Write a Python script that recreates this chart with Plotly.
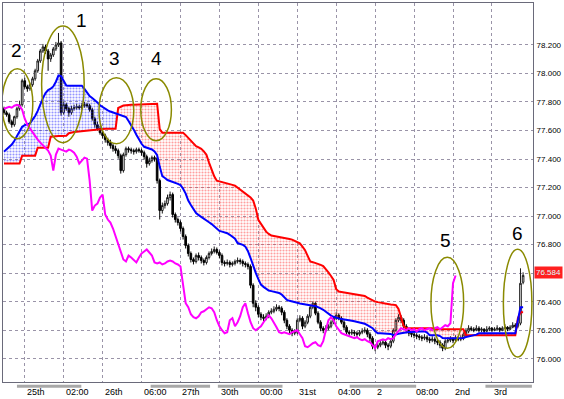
import plotly.graph_objects as go

# ---------------- data (bar index 0..200) ----------------
opens = [77.753,77.725,77.711,77.662,77.641,77.697,77.753,77.781,77.949,77.907,
77.893,77.921,77.963,78.019,78.088,78.158,78.186,78.158,78.102,78.130,
78.172,78.200,78.214,77.725,77.781,77.753,77.725,77.753,77.760,77.767,
77.760,77.774,77.781,77.774,77.746,77.683,77.641,77.613,77.585,77.564,
77.536,77.515,77.494,77.473,77.459,77.424,77.319,77.431,77.473,77.466,
77.459,77.452,77.466,77.459,77.445,77.417,77.368,77.389,77.410,77.403,
77.249,77.039,77.074,77.088,77.130,77.151,77.011,76.976,76.955,76.913,
76.857,76.794,76.738,76.696,76.682,76.724,76.710,76.689,76.675,76.710,
76.738,76.752,76.766,76.745,76.724,76.675,76.668,76.675,76.661,76.668,
76.682,76.689,76.682,76.668,76.661,76.647,76.515,76.389,76.361,76.312,
76.291,76.284,76.298,76.326,76.333,76.347,76.361,76.354,76.326,76.270,
76.228,76.200,76.179,76.186,76.270,76.284,76.228,76.256,76.298,76.361,
76.389,76.319,76.256,76.214,76.200,76.214,76.228,76.256,76.284,76.305,
76.284,76.256,76.221,76.186,76.179,76.186,76.179,76.172,76.186,76.193,
76.200,76.172,76.144,76.088,76.081,76.095,76.109,76.116,76.095,76.088,
76.123,76.200,76.270,76.291,76.270,76.228,76.200,76.179,76.172,76.165,
76.158,76.151,76.144,76.151,76.137,76.130,76.137,76.123,76.116,76.095,
76.074,76.123,76.130,76.137,76.130,76.144,76.137,76.144,76.172,76.193,
76.214,76.207,76.200,76.214,76.200,76.207,76.193,76.207,76.214,76.200,
76.207,76.214,76.200,76.214,76.221,76.207,76.221,76.235,76.228,76.249,
76.536]

closes = [77.725,77.711,77.662,77.641,77.697,77.753,77.781,77.949,77.907,77.893,
77.921,77.963,78.019,78.088,78.158,78.186,78.158,78.102,78.130,78.172,
78.200,78.214,77.725,77.781,77.753,77.725,77.753,77.760,77.767,77.760,
77.774,77.781,77.774,77.746,77.683,77.641,77.613,77.585,77.564,77.536,
77.515,77.494,77.473,77.459,77.424,77.319,77.431,77.473,77.466,77.459,
77.452,77.466,77.459,77.445,77.417,77.368,77.389,77.410,77.403,77.249,
77.039,77.074,77.088,77.130,77.151,77.011,76.976,76.955,76.913,76.857,
76.794,76.738,76.696,76.682,76.724,76.710,76.689,76.675,76.710,76.738,
76.752,76.766,76.745,76.724,76.675,76.668,76.675,76.661,76.668,76.682,
76.689,76.682,76.668,76.661,76.647,76.515,76.389,76.361,76.312,76.291,
76.284,76.298,76.326,76.333,76.347,76.361,76.354,76.326,76.270,76.228,
76.200,76.179,76.186,76.270,76.284,76.228,76.256,76.298,76.361,76.389,
76.319,76.256,76.214,76.200,76.214,76.228,76.256,76.284,76.305,76.284,
76.256,76.221,76.186,76.179,76.186,76.179,76.172,76.186,76.193,76.200,
76.172,76.144,76.088,76.081,76.095,76.109,76.116,76.095,76.088,76.123,
76.200,76.270,76.291,76.270,76.228,76.200,76.179,76.172,76.165,76.158,
76.151,76.144,76.151,76.137,76.130,76.137,76.123,76.116,76.095,76.074,
76.123,76.130,76.137,76.130,76.144,76.137,76.144,76.172,76.193,76.214,
76.207,76.200,76.214,76.200,76.207,76.193,76.207,76.214,76.200,76.207,
76.214,76.200,76.214,76.221,76.207,76.221,76.235,76.228,76.249,76.529,
76.584]

highs = [77.767,77.739,77.725,77.676,77.704,77.767,77.809,77.963,77.970,77.921,
77.935,77.977,78.033,78.102,78.172,78.207,78.200,78.172,78.144,78.186,
78.221,78.284,78.228,77.802,77.795,77.767,77.774,77.781,77.788,77.781,
77.795,77.802,77.795,77.788,77.760,77.697,77.662,77.634,77.599,77.578,
77.550,77.536,77.508,77.494,77.473,77.438,77.445,77.487,77.487,77.480,
77.473,77.480,77.480,77.473,77.459,77.431,77.410,77.424,77.424,77.417,
77.263,77.095,77.109,77.151,77.172,77.165,77.025,76.990,76.969,76.927,
76.871,76.808,76.752,76.710,76.738,76.745,76.724,76.703,76.724,76.752,
76.773,76.787,76.780,76.759,76.738,76.689,76.696,76.689,76.682,76.696,
76.710,76.703,76.696,76.682,76.675,76.661,76.529,76.410,76.375,76.326,
76.312,76.319,76.340,76.354,76.368,76.382,76.375,76.368,76.340,76.284,
76.242,76.214,76.207,76.284,76.305,76.298,76.270,76.312,76.375,76.403,
76.396,76.333,76.270,76.228,76.235,76.242,76.270,76.298,76.326,76.319,
76.298,76.270,76.235,76.200,76.207,76.200,76.193,76.200,76.214,76.221,
76.214,76.186,76.158,76.102,76.116,76.130,76.137,76.130,76.109,76.137,
76.214,76.284,76.312,76.305,76.284,76.242,76.214,76.193,76.186,76.179,
76.172,76.165,76.172,76.165,76.151,76.158,76.151,76.137,76.130,76.109,
76.137,76.151,76.158,76.151,76.165,76.158,76.165,76.186,76.214,76.235,
76.228,76.221,76.235,76.228,76.221,76.214,76.228,76.228,76.221,76.221,
76.235,76.221,76.228,76.242,76.228,76.235,76.256,76.249,76.263,76.634,
76.606]

lows = [77.711,77.697,77.648,77.620,77.627,77.683,77.739,77.767,77.893,77.872,
77.879,77.907,77.949,78.005,78.074,78.144,78.137,78.019,78.081,78.116,
78.158,78.186,77.704,77.711,77.739,77.697,77.711,77.739,77.746,77.746,
77.746,77.760,77.760,77.732,77.669,77.620,77.599,77.571,77.543,77.515,
77.494,77.473,77.452,77.438,77.403,77.298,77.305,77.417,77.445,77.438,
77.431,77.438,77.445,77.424,77.396,77.340,77.354,77.375,77.382,77.228,
76.976,77.018,77.053,77.074,77.109,76.990,76.955,76.934,76.892,76.836,
76.773,76.717,76.675,76.661,76.668,76.689,76.668,76.654,76.661,76.696,
76.724,76.738,76.731,76.703,76.654,76.647,76.654,76.640,76.647,76.654,
76.668,76.661,76.647,76.640,76.626,76.494,76.361,76.333,76.291,76.270,
76.263,76.270,76.284,76.312,76.319,76.333,76.333,76.305,76.249,76.207,
76.179,76.158,76.165,76.172,76.256,76.207,76.214,76.242,76.284,76.347,
76.305,76.242,76.193,76.179,76.186,76.200,76.214,76.242,76.270,76.270,
76.242,76.200,76.165,76.158,76.165,76.158,76.151,76.158,76.172,76.179,
76.151,76.123,76.067,76.053,76.067,76.081,76.095,76.074,76.060,76.074,
76.109,76.186,76.256,76.249,76.207,76.179,76.158,76.151,76.144,76.137,
76.130,76.123,76.130,76.116,76.109,76.116,76.102,76.095,76.074,76.053,
76.060,76.109,76.116,76.109,76.116,76.123,76.123,76.130,76.158,76.179,
76.193,76.186,76.193,76.186,76.186,76.179,76.186,76.193,76.186,76.193,
76.200,76.186,76.193,76.207,76.193,76.200,76.214,76.214,76.214,76.235,
76.522]

span_a = [77.452,77.470,77.486,77.502,77.528,77.561,77.595,77.626,77.638,77.643,
77.650,77.676,77.702,77.738,77.785,77.827,77.863,77.884,77.893,77.909,
77.942,77.986,77.982,77.946,77.915,77.914,77.914,77.914,77.914,77.914,
77.914,77.892,77.865,77.841,77.828,77.815,77.797,77.777,77.763,77.750,
77.741,77.733,77.726,77.719,77.713,77.707,77.702,77.695,77.667,77.640,
77.606,77.570,77.534,77.507,77.486,77.481,77.476,77.467,77.454,77.428,
77.347,77.280,77.267,77.253,77.246,77.241,77.235,77.226,77.217,77.192,
77.158,77.109,77.078,77.046,77.021,77.007,76.993,76.981,76.969,76.957,
76.944,76.926,76.908,76.896,76.891,76.886,76.880,76.869,76.856,76.842,
76.811,76.804,76.799,76.786,76.754,76.706,76.651,76.602,76.558,76.520,
76.504,76.488,76.478,76.474,76.470,76.465,76.461,76.450,76.431,76.413,
76.406,76.400,76.395,76.392,76.388,76.384,76.381,76.379,76.375,76.372,
76.370,76.364,76.353,76.343,76.329,76.314,76.302,76.294,76.286,76.282,
76.279,76.277,76.274,76.271,76.267,76.263,76.259,76.256,76.251,76.245,
76.236,76.227,76.214,76.193,76.179,76.179,76.179,76.179,76.179,76.174,
76.165,76.172,76.175,76.179,76.183,76.186,76.187,76.188,76.189,76.190,
76.191,76.192,76.193,76.183,76.165,76.165,76.165,76.165,76.159,76.145,
76.144,76.144,76.144,76.144,76.144,76.144,76.144,76.146,76.152,76.156,
76.159,76.163,76.169,76.179,76.179,76.179,76.179,76.179,76.179,76.179,
76.179,76.179,76.179,76.179,76.179,76.179,76.179,76.179,76.270,76.361,
76.361]

span_b = [77.368,77.368,77.368,77.368,77.368,77.368,77.368,77.424,77.424,77.424,
77.424,77.424,77.424,77.480,77.480,77.480,77.480,77.480,77.557,77.560,
77.561,77.562,77.562,77.563,77.564,77.581,77.587,77.589,77.592,77.594,
77.597,77.599,77.602,77.604,77.607,77.609,77.611,77.613,77.613,77.613,
77.613,77.613,77.613,77.613,77.758,77.769,77.775,77.778,77.781,77.781,
77.781,77.782,77.783,77.783,77.785,77.786,77.786,77.787,77.788,77.788,
77.610,77.585,77.585,77.585,77.585,77.585,77.585,77.585,77.585,77.585,
77.568,77.550,77.529,77.507,77.491,77.482,77.472,77.454,77.430,77.375,
77.323,77.279,77.248,77.244,77.240,77.236,77.230,77.225,77.219,77.213,
77.199,77.184,77.170,77.155,77.143,77.131,77.109,77.054,76.974,76.943,
76.912,76.891,76.875,76.864,76.861,76.858,76.856,76.854,76.851,76.845,
76.840,76.835,76.828,76.819,76.809,76.786,76.761,76.721,76.682,76.677,
76.672,76.666,76.658,76.650,76.630,76.606,76.580,76.553,76.488,76.471,
76.468,76.465,76.463,76.460,76.457,76.454,76.452,76.449,76.447,76.440,
76.429,76.419,76.407,76.401,76.397,76.393,76.390,76.387,76.384,76.381,
76.379,76.376,76.349,76.291,76.230,76.214,76.214,76.214,76.214,76.214,
76.214,76.214,76.214,76.214,76.214,76.214,76.207,76.207,76.207,76.207,
76.207,76.207,76.207,76.207,76.207,76.207,76.207,76.207,76.165,76.165,
76.165,76.165,76.165,76.165,76.165,76.165,76.165,76.165,76.165,76.165,
76.165,76.165,76.165,76.165,76.165,76.165,76.165,76.165,76.284,76.326,
76.326]

CHIKOU_SHIFT = 26
last_price = "76.584"

tick_bars = [8, 23, 38, 53, 68, 83, 98, 113, 128, 143, 158, 173, 188]
tick_text = ["25th", "02:00", "26th", "06:00", "27th", "30th", "00:00",
             "31st", "04:00", "2", "08:00", "2nd", "3rd"]
price_ticks = [76.0, 76.2, 76.4, 76.6, 76.8, 77.0, 77.2, 77.4, 77.6, 77.8, 78.0, 78.2]
price_labels = ["76.000", "76.200", "76.400", "", "76.800", "77.000", "77.200",
                "77.400", "77.600", "77.800", "78.000", "78.200"]

session_bars = [(5.0, 29.8), (56.5, 79.4), (82.4, 107.3), (133.2, 158.8), (185.5, 203.4)]

# highlighted zones: label, (bar0, bar1), (price_low, price_high), label position
zones = [
    ("1", (14.5, 30.9), (77.515, 78.333), (29.8, 78.368)),
    ("2", (-0.8, 11.1), (77.543, 78.033), (5.0, 78.158)),
    ("3", (36.6, 50.0), (77.508, 77.970), (42.7, 78.102)),
    ("4", (52.7, 64.5), (77.529, 77.963), (58.8, 78.102)),
    ("5", (164.5, 177.1), (76.074, 76.711), (170.2, 76.830)),
    ("6", (192.4, 203.4), (76.012, 76.767), (197.7, 76.879)),
]

# ---------------- figure ----------------
n = len(closes)
bars = list(range(n))
fig = go.Figure()

# cloud fill, split into runs of constant sign
def add_run(s, e, a_above):
    xs = bars[s:e + 1]
    lo = [min(span_a[i], span_b[i]) for i in xs]
    hi = [max(span_a[i], span_b[i]) for i in xs]
    col = "#2b2bff" if a_above else "#ff4040"
    fig.add_trace(go.Scatter(x=xs, y=lo, mode="lines", line=dict(width=0),
                             hoverinfo="skip", showlegend=False))
    fig.add_trace(go.Scatter(x=xs, y=hi, mode="lines", line=dict(width=0),
                             fill="tonexty", fillcolor="rgba(0,0,0,0)",
                             fillpattern=dict(shape=".", fgcolor=col,
                                              bgcolor="rgba(255,255,255,0)",
                                              size=3, solidity=0.4),
                             hoverinfo="skip", showlegend=False))

start = 0
cur = span_a[0] >= span_b[0]
for i in range(1, n):
    s = span_a[i] >= span_b[i]
    if s != cur:
        add_run(start, i, cur)
        start = i
        cur = s
add_run(start, n - 1, cur)

fig.add_trace(go.Scatter(x=bars, y=span_b, mode="lines",
                         line=dict(color="#ff0000", width=2), showlegend=False))
fig.add_trace(go.Scatter(x=bars, y=span_a, mode="lines",
                         line=dict(color="#0000ff", width=2), showlegend=False))
fig.add_trace(go.Scatter(x=bars[:n - CHIKOU_SHIFT], y=closes[CHIKOU_SHIFT:],
                         mode="lines", line=dict(color="#ff00ff", width=2),
                         showlegend=False))
fig.add_trace(go.Candlestick(
    x=bars, open=opens, high=highs, low=lows, close=closes,
    increasing=dict(line=dict(color="#1a1a1a", width=1), fillcolor="#ffffff"),
    decreasing=dict(line=dict(color="#000000", width=1), fillcolor="#000000"),
    whiskerwidth=0, showlegend=False))

label_font = "Liberation Sans, Arial"
shapes = []
for (b0, b1) in session_bars:
    shapes.append(dict(type="line", xref="x", yref="paper", x0=b0, x1=b1,
                       y0=-0.011, y1=-0.011, line=dict(color="#a8a8a8", width=3)))
annotations = []
for label, (b0, b1), (p0, p1), (lx, ly) in zones:
    shapes.append(dict(type="circle", xref="x", yref="y", x0=b0, x1=b1,
                       y0=p0, y1=p1, line=dict(color="#8a8a00", width=1.5),
                       layer="above"))
    annotations.append(dict(x=lx, y=ly, xref="x", yref="y", text=label,
                            showarrow=False,
                            font=dict(size=19, color="#000000", family=label_font)))
for b, t in zip(tick_bars, tick_text):
    annotations.append(dict(x=b, y=0, xref="x", yref="paper",
                            text=t, xanchor="left", yanchor="middle", yshift=-10,
                            showarrow=False,
                            font=dict(size=9, color="#000000", family=label_font)))
annotations.append(dict(x=1, y=float(last_price), xref="paper", yref="y",
                        text=last_price, xanchor="left", yanchor="middle",
                        xshift=1, yshift=3, showarrow=False, bgcolor="#ff2020",
                        borderpad=1,
                        font=dict(size=8, color="#d8ffff", family=label_font)))

fig.update_layout(
    width=564, height=399,
    margin=dict(l=3, r=26, t=2, b=17),
    paper_bgcolor="#ffffff", plot_bgcolor="#ffffff",
    shapes=shapes, annotations=annotations,
    hovermode=False, boxgap=0.1,
    xaxis=dict(range=[-0.38, 203.82], tickvals=tick_bars, showticklabels=False,
               showgrid=True, gridcolor="#9a94a8", griddash="dot", gridwidth=1,
               zeroline=False, showline=True, linecolor="#6a6a7a", linewidth=1,
               mirror=True, rangeslider=dict(visible=False), ticks=""),
    yaxis=dict(range=[75.837, 78.494], side="right", tickvals=price_ticks,
               ticktext=price_labels,
               tickfont=dict(size=8, color="#000000", family=label_font),
               showgrid=True, gridcolor="#9a94a8", griddash="dot", gridwidth=1,
               zeroline=False, showline=True, linecolor="#6a6a7a", linewidth=1,
               mirror=True, ticks="", ticklabelstandoff=1),
)

fig.write_html("out.html", config={"displayModeBar": False},
               post_script="document.body.style.margin='0';document.body.style.overflow='hidden';")
